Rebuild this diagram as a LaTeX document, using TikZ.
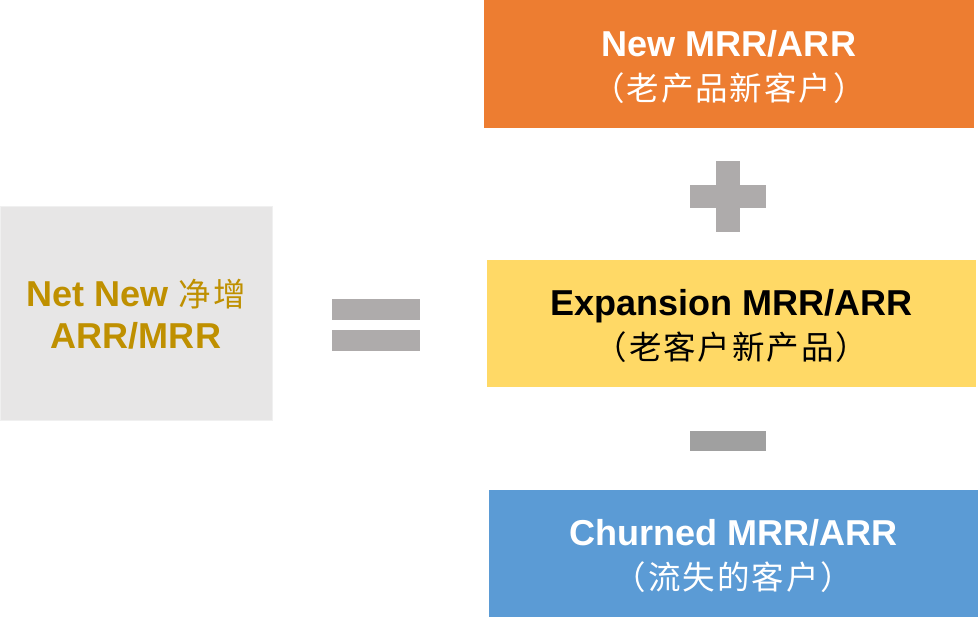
\documentclass[tikz,border=0pt]{standalone}
\usepackage{fontspec}
\setmainfont{Liberation Sans}
\newfontfamily\cjk[LetterSpace=6]{Noto Sans CJK SC}
\usetikzlibrary{positioning}

\definecolor{netgray}{HTML}{E7E6E6}
\definecolor{netgold}{HTML}{BF9000}
\definecolor{signgray}{HTML}{AEABAB}
\definecolor{minusgray}{HTML}{A0A0A0}
\definecolor{neworange}{HTML}{ED7D31}
\definecolor{expyellow}{HTML}{FFD966}
\definecolor{churnblue}{HTML}{5B9BD5}

\begin{document}
\begin{tikzpicture}[x=0.02cm,y=-0.02cm]
\tikzstyle{box} = [rectangle, inner sep=0pt, align=center,
minimum width=9.8cm, minimum height=2.56cm,
font=\fontsize{20.5}{24.5}\selectfont\bfseries]
\tikzstyle{bar} = [rectangle, inner sep=0pt, fill=signgray, draw=none]
\newcommand{\zh}[1]{{\cjk\mdseries\fontsize{18.5}{20}\selectfont #1}}
\useasboundingbox (0,0) rectangle (978,618);

% left side
\node [rectangle, fill=netgray, draw=gray!12, inner sep=0pt,
minimum width=5.44cm, minimum height=4.28cm] (net) at (136,313) {};
\node [align=center, text=netgold, font=\fontsize{20.5}{24}\selectfont\bfseries]
(nettext) at (136,314) {Net New \zh{净增}\\ARR/MRR};

% equals
\node [bar, minimum width=1.76cm, minimum height=0.42cm] (eqtop) at (376,309.5) {};
\node [bar, minimum width=1.76cm, minimum height=0.42cm] (eqbot) at (376,340.5) {};

% right side
\node [box, fill=neworange, text=white] (new) at (729,64) {};
\node [box, fill=expyellow, text=black] (exp) at (731.5,323.5) {};
\node [box, fill=churnblue, text=white] (churn) at (733.5,553.5) {};
\node [align=center, text=white, font=\fontsize{20.5}{24.5}\selectfont\bfseries]
(newtext) at (729,67) {New MRR/ARR\\\zh{（老产品新客户）}};
\node [align=center, text=black, font=\fontsize{20.5}{24.5}\selectfont\bfseries]
(exptext) at (731.5,326) {Expansion MRR/ARR\\\zh{（老客户新产品）}};
\node [align=center, text=white, font=\fontsize{20.5}{24.5}\selectfont\bfseries]
(churntext) at (733.5,556) {Churned MRR/ARR\\\zh{（流失的客户）}};

% plus and minus
\node [bar, minimum width=1.52cm, minimum height=0.46cm] (plush) at (728,196.5) {};
\node [bar, minimum width=0.48cm, minimum height=1.42cm] (plusv) at (728,196.5) {};
\node [bar, fill=minusgray, minimum width=1.52cm, minimum height=0.40cm] (minus) at (728,441) {};

\end{tikzpicture}
\end{document}
